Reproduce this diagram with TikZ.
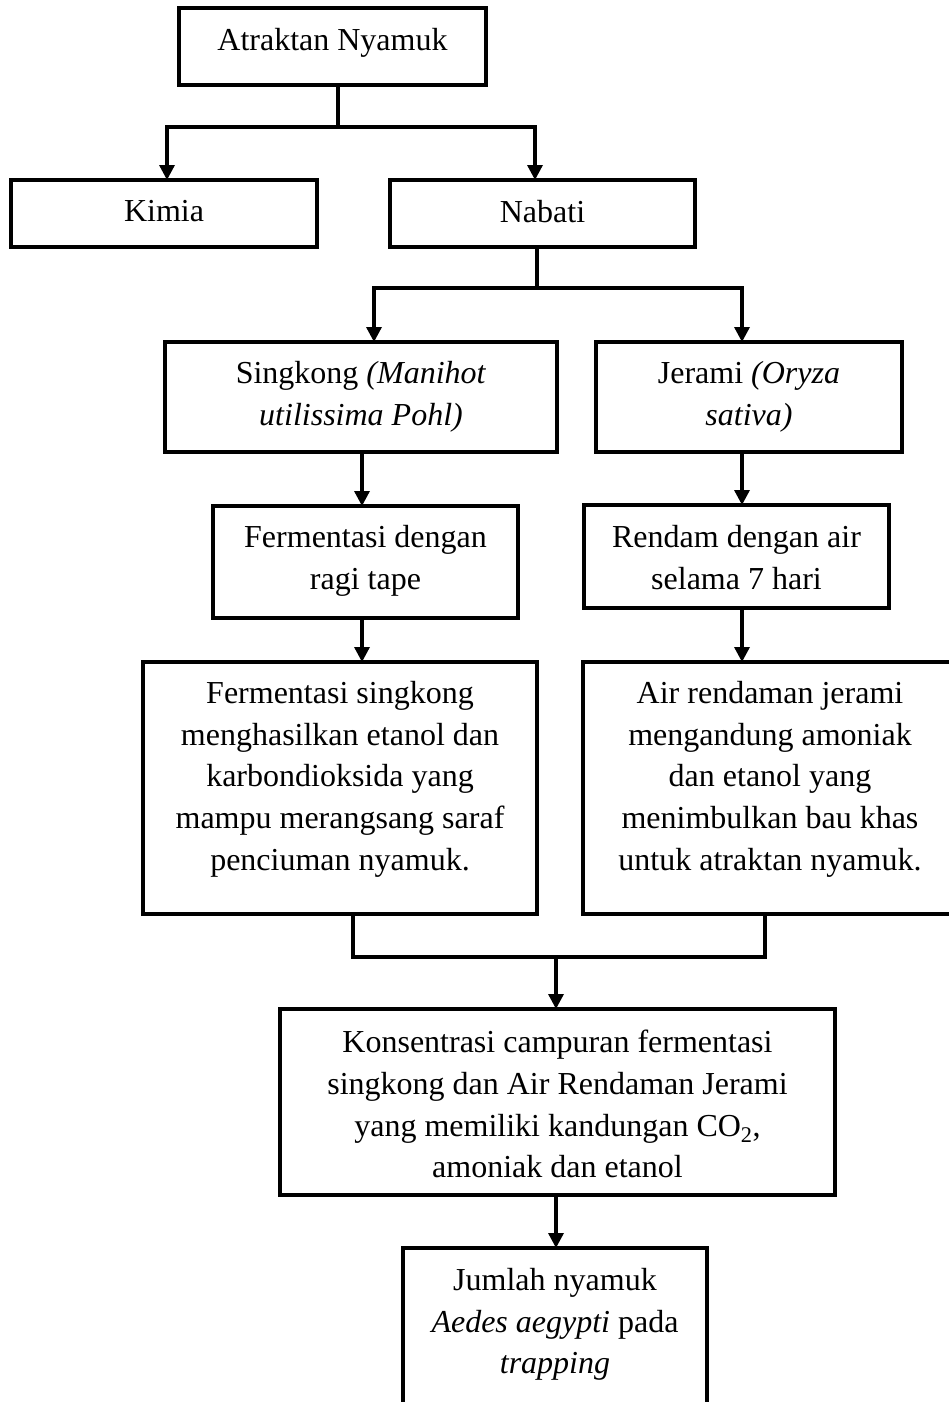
\documentclass[tikz,border=0pt]{standalone}
\usepackage{fontspec}
\setmainfont{Liberation Serif}
\usetikzlibrary{arrows.meta}
\begin{document}
\begin{tikzpicture}[x=1pt,y=-1pt,
  box/.style={draw,line width=3.3pt,inner sep=0pt,outer sep=0pt},
  txt/.style={align=center,inner sep=0pt,anchor=north,font={\fontsize{32}{41.7}\selectfont}},
  conn/.style={line width=3.3pt},
  arr/.style={line width=3.3pt,-{Triangle[width=15pt,length=15pt]}}]
\useasboundingbox (0,0) rectangle (949,1402);
\clip (0,0) rectangle (949,1402);

\node[box,minimum width=307pt,minimum height=77pt] (top) at (332.5,46.5) {};
\node[txt] (topt) at (332.5,28) {Atraktan Nyamuk};

\node[box,minimum width=306pt,minimum height=67pt] (kimia) at (164,213.5) {};
\node[txt] (kimiat) at (164,200) {Kimia};

\node[box,minimum width=305pt,minimum height=67pt] (nabati) at (542.5,213.5) {};
\node[txt] (nabatit) at (542.5,200) {Nabati};

\node[box,minimum width=392pt,minimum height=110pt] (singkong) at (361,397) {};
\node[txt] (singkongt) at (361,361) {Singkong \textit{(Manihot}\\\textit{utilissima Pohl)}};

\node[box,minimum width=306pt,minimum height=110pt] (jerami) at (749,397) {};
\node[txt] (jeramit) at (749,361) {Jerami \textit{(Oryza}\\\textit{sativa)}};

\node[box,minimum width=305pt,minimum height=112pt] (ferm) at (365.5,562) {};
\node[txt] (fermt) at (365.5,525) {Fermentasi dengan\\ragi tape};

\node[box,minimum width=305pt,minimum height=103pt] (rendam) at (736.5,556.5) {};
\node[txt] (rendamt) at (736.5,525) {Rendam dengan air\\selama 7 hari};

\node[box,minimum width=394pt,minimum height=252pt] (kiri) at (340,788) {};
\node[txt] (kirit) at (340,681) {Fermentasi singkong\\menghasilkan etanol dan\\karbondioksida yang\\mampu merangsang saraf\\penciuman nyamuk.};

\node[box,minimum width=374pt,minimum height=252pt] (kanan) at (770,788) {};
\node[txt] (kanant) at (770,681) {Air rendaman jerami\\mengandung amoniak\\dan etanol yang\\menimbulkan bau khas\\untuk atraktan nyamuk.};

\node[box,minimum width=555pt,minimum height=186pt] (kons) at (557.5,1102) {};
\node[txt] (konst) at (557.5,1030) {Konsentrasi campuran fermentasi\\singkong dan Air Rendaman Jerami\\yang memiliki kandungan CO\textsubscript{2},\\amoniak dan etanol};

\node[box,minimum width=304pt,minimum height=172pt] (final) at (555,1334) {};
\node[txt] (finalt) at (555,1268) {Jumlah nyamuk\\\textit{Aedes aegypti} pada\\\textit{trapping}};

\draw[arr] ([xshift=5.5pt]top.south) -- ++(0,42) -| ([xshift=3pt]kimia.north);
\draw[arr] ([xshift=5.5pt]top.south) -- ++(0,42) -| ([xshift=-7.5pt]nabati.north);
\draw[arr] ([xshift=-5.5pt]nabati.south) -- ++(0,41) -| ([xshift=13pt]singkong.north);
\draw[arr] ([xshift=-5.5pt]nabati.south) -- ++(0,41) -| ([xshift=-7pt]jerami.north);
\draw[arr] ([xshift=1pt]singkong.south) -- ([xshift=-3.5pt]ferm.north);
\draw[arr] ([xshift=-7pt]jerami.south) -- ([xshift=5.5pt]rendam.north);
\draw[arr] ([xshift=-3.5pt]ferm.south) -- ([xshift=22pt]kiri.north);
\draw[arr] ([xshift=5.5pt]rendam.south) -- ([xshift=-28pt]kanan.north);
\coordinate (m) at (556,957);
\draw[conn] ([xshift=13pt]kiri.south) |- (m) -| ([xshift=-5pt]kanan.south);
\draw[arr] (m) -- (m |- kons.north);
\draw[arr] ([xshift=-1.5pt]kons.south) -- ([xshift=1pt]final.north);
\end{tikzpicture}
\end{document}
